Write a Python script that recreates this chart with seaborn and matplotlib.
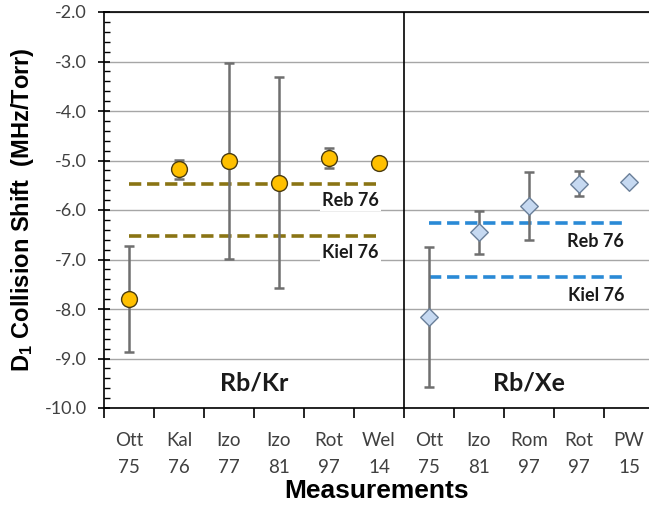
import numpy as np
import pandas as pd
import matplotlib
matplotlib.use("Agg")
import matplotlib.pyplot as plt
import seaborn as sns
from matplotlib.ticker import MultipleLocator, FixedLocator, NullFormatter

# ---- data ----
kr_labels = ["Ott\n75", "Kal\n76", "Izo\n77", "Izo\n81", "Rot\n97", "Wel\n14"]
xe_labels = ["Ott\n75", "Izo\n81", "Rom\n97", "Rot\n97", "PW\n15"]
kr_values = [-7.80, -5.18, -5.01, -5.45, -4.95, -5.06]
kr_errors = [1.07, 0.20, 1.97, 2.13, 0.20, 0.0]
xe_values = [-8.16, -6.45, -5.92, -5.47, -5.43]
xe_errors = [1.42, 0.43, 0.69, 0.25, 0.0]
kr_refs = {"Reb 76": -5.47, "Kiel 76": -6.52}
xe_refs = {"Reb 76": -6.27, "Kiel 76": -7.36}
group_names = ["Rb/Kr", "Rb/Xe"]

sns.set_theme(style="white")
plt.rcParams["font.family"] = ["Lato", "DejaVu Sans"]
plt.rcParams["mathtext.fontset"] = "custom"
plt.rcParams["mathtext.rm"] = "Liberation Sans"
plt.rcParams["mathtext.bf"] = "Liberation Sans:bold"

labels = kr_labels + xe_labels
n_kr = len(kr_labels)
df = pd.DataFrame({
    "x": np.arange(len(labels)),
    "value": kr_values + xe_values,
    "err": kr_errors + xe_errors,
    "group": [group_names[0]] * n_kr + [group_names[1]] * len(xe_labels),
})

fig = plt.figure(figsize=(6.49, 5.07), dpi=100)
ax = fig.add_axes([104 / 649, 1 - 408 / 507, 545 / 649, 396 / 507])

ax.set_xlim(-0.5, 10.4)
ax.set_ylim(-10, -2)

# grid
ax.yaxis.set_major_locator(MultipleLocator(1.0))
ax.yaxis.set_minor_locator(MultipleLocator(0.2))
ax.grid(axis="y", which="major", color="#a6a6a6", linewidth=1.0)
ax.grid(axis="x", visible=False)
ax.set_axisbelow(True)

# reference lines
kr_x0, kr_x1 = 0, n_kr - 1
xe_x0, xe_x1 = n_kr, len(labels) - 1.1
for name, v in kr_refs.items():
    ax.hlines(v, kr_x0, kr_x1, colors="#8a7414", linestyles=(0, (3.4, 1.6)), linewidth=2.6, zorder=2)
    ax.text(kr_x1, v - 0.34, name, ha="right", va="center", fontsize=13, fontweight="bold",
            color="#1a1a1a", bbox=dict(facecolor="white", edgecolor="none", pad=1.5), zorder=3)
for name, v in xe_refs.items():
    ax.hlines(v, xe_x0, xe_x1, colors="#2a8ad6", linestyles=(0, (3.4, 1.6)), linewidth=2.6, zorder=2)
    ax.text(xe_x1, v - 0.37, name, ha="right", va="center", fontsize=13, fontweight="bold",
            color="#1a1a1a", bbox=dict(facecolor="white", edgecolor="none", pad=1.5), zorder=3)

# error bars
ax.errorbar(df["x"], df["value"], yerr=df["err"], fmt="none", ecolor="#6f6f6f",
            elinewidth=1.8, capsize=3.5, capthick=1.8, zorder=4)

# markers
kr = df[df["group"] == group_names[0]]
xe = df[df["group"] == group_names[1]]
sns.scatterplot(data=kr, x="x", y="value", ax=ax, marker="o", s=130,
                color="#ffc000", edgecolor="#4a3b10", linewidth=1.0, zorder=5, legend=False)
sns.scatterplot(data=xe, x="x", y="value", ax=ax, marker="D", s=80,
                color="#c6d9f1", edgecolor="#6a7f99", linewidth=1.0, zorder=5, legend=False)

# group labels
ax.text((n_kr - 1) / 2, -9.5, group_names[0], ha="center", va="center", fontsize=18, fontweight="bold", color="#1a1a1a")
ax.text(n_kr + (len(xe_labels) - 1) / 2, -9.5, group_names[1], ha="center", va="center", fontsize=18, fontweight="bold", color="#1a1a1a")

# divider
ax.axvline(n_kr - 0.5, color="black", linewidth=1.2, zorder=3)

# x ticks: marks at boundaries, labels at centres
ax.xaxis.set_major_locator(FixedLocator(np.arange(len(labels)) - 0.5))
ax.xaxis.set_major_formatter(NullFormatter())
ax.xaxis.set_minor_locator(FixedLocator(np.arange(len(labels))))
ax.set_xticks(np.arange(len(labels)), labels, minor=True)
for t in ax.get_xticklabels(minor=True):
    t.set_linespacing(1.75)
ax.tick_params(axis="x", which="major", direction="out", length=7, width=1.2, color="black", bottom=True)
ax.tick_params(axis="x", which="minor", length=0, labelsize=13.5, labelcolor="#404040", pad=17)

# y ticks
ax.yaxis.set_major_formatter(matplotlib.ticker.FormatStrFormatter("%.1f"))
ax.tick_params(axis="y", which="major", direction="inout", length=9, width=1.2, color="black",
               labelsize=13, labelcolor="#404040", left=True, pad=8)
ax.tick_params(axis="y", which="minor", direction="in", length=4, width=1.0, color="black", left=True)

for s in ["left", "top", "bottom"]:
    ax.spines[s].set_visible(True)
    ax.spines[s].set_color("black")
    ax.spines[s].set_linewidth(1.2)
ax.spines["right"].set_visible(False)

ax.set_xlabel("Measurements", fontsize=19, fontweight="bold", family=["Liberation Sans", "DejaVu Sans"],
              labelpad=2, color="black")
ax.set_ylabel(r"$\mathbf{D_1}$ Collision Shift  (MHz/Torr)", fontsize=17, fontweight="bold",
              family=["Liberation Sans", "DejaVu Sans"], labelpad=6, color="black")

fig.savefig("out.png", dpi=100)
